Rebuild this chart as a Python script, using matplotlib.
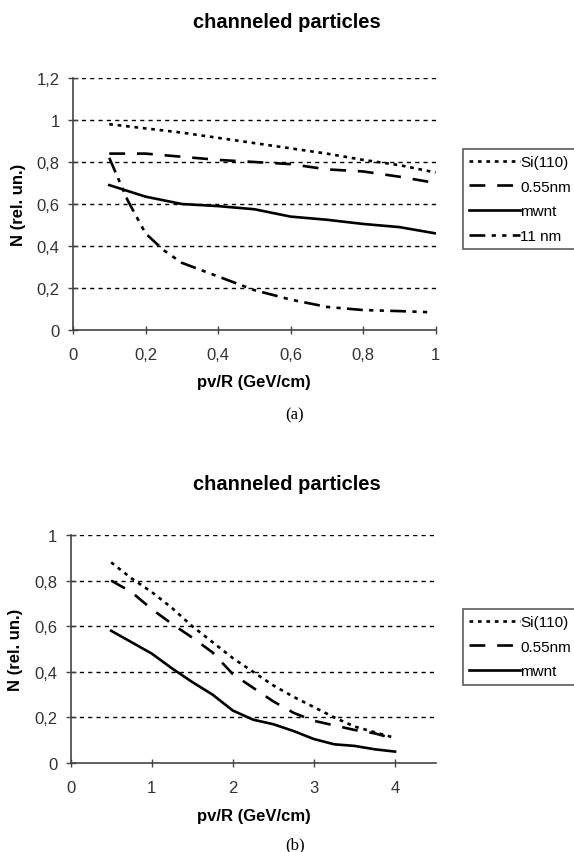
import matplotlib
matplotlib.use("Agg")
import matplotlib.pyplot as plt
from matplotlib.ticker import FuncFormatter

plt.rcParams["font.family"] = ["Liberation Sans", "DejaVu Sans"]

# panel (a)
x_a = [0.1, 0.2, 0.3, 0.4, 0.5, 0.6, 0.7, 0.8, 0.9, 1.0]
si_a = [0.98, 0.96, 0.94, 0.915, 0.89, 0.865, 0.84, 0.81, 0.785, 0.75]
nm055_a = [0.84, 0.84, 0.825, 0.81, 0.80, 0.79, 0.765, 0.755, 0.73, 0.70]
mwnt_a = [0.69, 0.635, 0.60, 0.59, 0.575, 0.54, 0.525, 0.505, 0.49, 0.46]
x_11nm = [0.1, 0.15, 0.2, 0.25, 0.3, 0.4, 0.5, 0.6, 0.7, 0.8, 0.9, 0.98]
nm11_a = [0.82, 0.62, 0.46, 0.38, 0.32, 0.255, 0.19, 0.145, 0.11, 0.095, 0.09, 0.085]

# panel (b)
x_b = [0.5, 0.75, 1.0, 1.25, 1.5, 1.75, 2.0, 2.25, 2.5, 2.75, 3.0, 3.25, 3.5, 3.75, 4.0]
si_b = [0.88, 0.81, 0.75, 0.68, 0.60, 0.53, 0.46, 0.40, 0.34, 0.29, 0.245, 0.20, 0.16, 0.135, 0.11]
nm055_b = [0.80, 0.75, 0.675, 0.61, 0.55, 0.485, 0.39, 0.33, 0.27, 0.22, 0.185, 0.165, 0.145, 0.13, 0.105]
mwnt_b = [0.58, 0.53, 0.48, 0.415, 0.355, 0.30, 0.23, 0.19, 0.17, 0.14, 0.105, 0.082, 0.075, 0.06, 0.05]

LW = 1.9
STYLE_SI = (0, (1.4, 1.8))
STYLE_055 = (0, (6, 4.5))
STYLE_11 = (0, (6, 2.4, 1.6, 2.4, 1.6, 2.4))
W, H = 574, 853


def comma(v, pos):
    return f"{v:g}".replace(".", ",")


def style_axes(ax, ylim, yticks, xlim, xticks):
    ax.set_xlim(*xlim)
    ax.set_ylim(*ylim)
    ax.set_xticks(xticks)
    ax.set_yticks(yticks)
    ax.xaxis.set_major_formatter(FuncFormatter(comma))
    ax.yaxis.set_major_formatter(FuncFormatter(comma))
    for side in ("top", "right"):
        ax.spines[side].set_visible(False)
    for side in ("left", "bottom"):
        ax.spines[side].set_color("#444444")
        ax.spines[side].set_linewidth(1.2)
    ax.tick_params(axis="y", direction="inout", length=7, width=1, pad=6,
                   labelsize=12, colors="#444444", labelcolor="#333333")
    ax.tick_params(axis="x", direction="inout", length=6, width=1, pad=9,
                   labelsize=12, colors="#444444", labelcolor="#333333")
    for y in yticks[1:]:
        ax.axhline(y, color="black", lw=1.0, ls=(0, (3, 3)), zorder=0)


def add_legend(ax, handles, labels, top_px):
    left = 463 / W
    top = 1 - top_px / H
    leg = ax.legend(handles, labels, loc="upper left",
                    bbox_to_anchor=(left, top, 0.3, 0.0),
                    bbox_transform=ax.figure.transFigure, mode="expand",
                    frameon=True, fancybox=False, fontsize=11,
                    handlelength=3.3, handletextpad=0.05,
                    borderpad=0.4, labelspacing=0.7, borderaxespad=0)
    leg.get_frame().set_edgecolor("#333333")
    leg.get_frame().set_linewidth(1.2)
    return leg


fig = plt.figure(figsize=(W / 100, H / 100), dpi=100)

# ---- panel (a)
ax1 = fig.add_axes([73 / W, 1 - 331 / H, 362.6 / W, 252 / H])
style_axes(ax1, (0, 1.2), [0, 0.2, 0.4, 0.6, 0.8, 1.0, 1.2], (0, 1),
           [0, 0.2, 0.4, 0.6, 0.8, 1.0])
h1, = ax1.plot(x_a, si_a, color="black", lw=LW, ls=STYLE_SI)
h2, = ax1.plot(x_a, nm055_a, color="black", lw=LW, ls=STYLE_055)
h3, = ax1.plot(x_a, mwnt_a, color="black", lw=LW, ls="-")
h4, = ax1.plot(x_11nm, nm11_a, color="black", lw=LW, ls=STYLE_11)
add_legend(ax1, [h1, h2, h3, h4], ["Si(110)", "0.55nm", "mwnt", "11 nm"], 150)
ax1.set_ylabel("N (rel. un.)", fontsize=12, fontweight="bold", labelpad=8)
fig.text(0.5, 1 - 23 / H, "channeled particles", ha="center", va="center",
         fontsize=14.5, fontweight="bold")
fig.text(254 / W, 1 - 383 / H, "pv/R (GeV/cm)", ha="center", va="center",
         fontsize=12, fontweight="bold")
fig.text(295 / W, 1 - 415 / H, "(a)", ha="center", va="center",
         fontsize=12, family=["Liberation Serif", "DejaVu Serif"])

# ---- panel (b)
ax2 = fig.add_axes([70.6 / W, 1 - 764 / H, 365 / W, 228 / H])
style_axes(ax2, (0, 1.0), [0, 0.2, 0.4, 0.6, 0.8, 1.0], (0, 4.5),
           [0, 1, 2, 3, 4])
g1, = ax2.plot(x_b, si_b, color="black", lw=LW, ls=STYLE_SI)
g2, = ax2.plot(x_b, nm055_b, color="black", lw=LW, ls=STYLE_055)
g3, = ax2.plot(x_b, mwnt_b, color="black", lw=LW, ls="-")
add_legend(ax2, [g1, g2, g3], ["Si(110)", "0.55nm", "mwnt"], 610)
ax2.set_ylabel("N (rel. un.)", fontsize=12, fontweight="bold", labelpad=8)
fig.text(0.5, 1 - 485 / H, "channeled particles", ha="center", va="center",
         fontsize=14.5, fontweight="bold")
fig.text(254 / W, 1 - 817 / H, "pv/R (GeV/cm)", ha="center", va="center",
         fontsize=12, fontweight="bold")
fig.text(295 / W, 1 - 845 / H, "(b)", ha="center", va="center",
         fontsize=12, family=["Liberation Serif", "DejaVu Serif"])

fig.savefig("out.png", dpi=100)
